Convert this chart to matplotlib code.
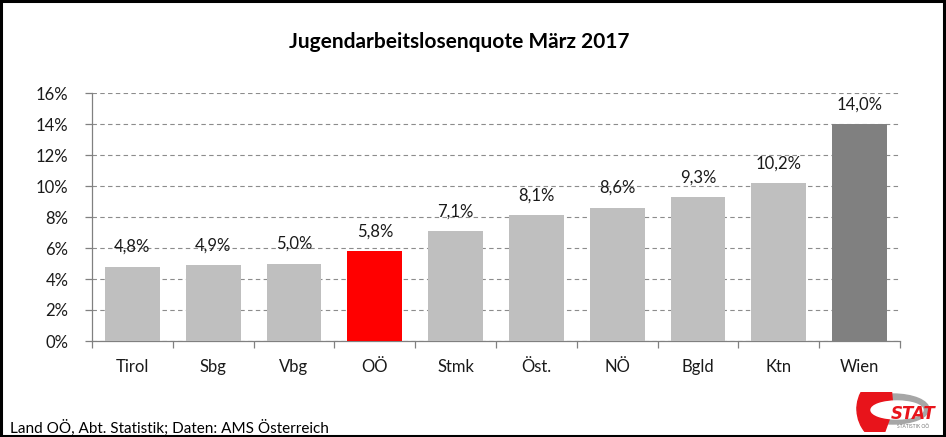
import matplotlib
matplotlib.use("Agg")
import matplotlib.pyplot as plt
from matplotlib.patches import Rectangle, Ellipse, Wedge
from matplotlib.ticker import FixedLocator, FuncFormatter

categories = ["Tirol", "Sbg", "Vbg", "OÖ", "Stmk", "Öst.", "NÖ", "Bgld", "Ktn", "Wien"]
values = [4.8, 4.9, 5.0, 5.8, 7.1, 8.1, 8.6, 9.3, 10.2, 14.0]
colors = ["#BFBFBF"] * 3 + ["#FF0000"] + ["#BFBFBF"] * 5 + ["#808080"]
yticks = [0, 2, 4, 6, 8, 10, 12, 14, 16]

plt.rcParams['font.family'] = ['Lato', 'DejaVu Sans']

fig = plt.figure(figsize=(9.46, 4.37), dpi=100)
ax = fig.add_axes([92/946, 1 - 341/437, 808/946, 248/437])

x = list(range(len(categories)))
ax.bar(x, values, width=0.68, color=colors, zorder=3)
for xi, v in zip(x, values):
    ax.text(xi, v + 0.75, f"{v:.1f}".replace(".", ",") + "%", ha="center", va="bottom",
            fontsize=12, color="#1a1a1a")

ax.set_xlim(-0.5, len(categories) - 0.5)
ax.set_ylim(0, 16)
ax.set_yticks(yticks)
ax.yaxis.set_major_formatter(FuncFormatter(lambda v, p: f"{int(v)}%"))
ax.yaxis.grid(True, linestyle=(0, (4, 3)), color="#8c8c8c", linewidth=0.8, zorder=0)
ax.set_xticks(x)
ax.set_xticklabels(categories)
ax.xaxis.set_minor_locator(FixedLocator([i - 0.5 for i in range(len(categories) + 1)]))
ax.tick_params(axis="x", which="major", length=0, pad=13, labelsize=12, colors="#1a1a1a")
ax.tick_params(axis="x", which="minor", length=5, width=0.9, color="#808080", direction="out")
ax.tick_params(axis="y", length=5, width=0.9, color="#808080", labelsize=12, pad=12, labelcolor="#1a1a1a")
for s in ["top", "right"]:
    ax.spines[s].set_visible(False)
for s in ["left", "bottom"]:
    ax.spines[s].set_color("#808080")
    ax.spines[s].set_linewidth(0.9)

fig.text(459/946, 1 - 42/437, "Jugendarbeitslosenquote März 2017", ha="center", va="center",
         fontsize=15, fontweight="bold", color="#000000")
fig.text(10/946, 1 - 428/437, "Land OÖ, Abt. Statistik; Daten: AMS Österreich", ha="left",
         va="center", fontsize=11, color="#000000")

# figure border
fig.add_artist(Rectangle((0.001, 0.002), 0.997, 0.996, transform=fig.transFigure,
                         fill=False, edgecolor="black", linewidth=2.2))

# logo
lax = fig.add_axes([855/946, 1 - 432/437, 85/946, 40/437])
lax.set_xlim(0, 85)
lax.set_ylim(0, 40)
lax.axis("off")
lax.add_patch(Ellipse((38, 23), 72, 30, color="#A6A6A6"))
lax.add_patch(Wedge((38, 23), 36, 95, 250, color="#E8141B", transform=lax.transData))
lax.add_patch(Ellipse((42, 22), 52, 18, color="white"))
lax.text(58, 18, "STAT", ha="center", va="center", fontsize=12, fontweight="bold",
         color="#E8141B", family="DejaVu Sans", style="italic")
lax.text(58, 5, "STATISTIK OÖ", ha="center", va="center", fontsize=3.5, color="#777777")

fig.savefig("out.png", dpi=100)
